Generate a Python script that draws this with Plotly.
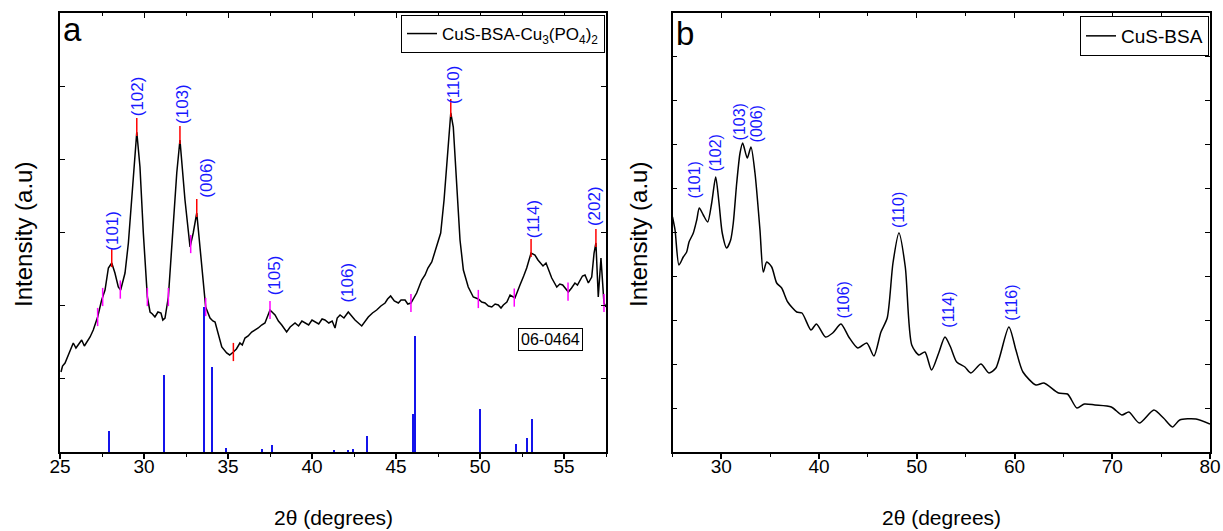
import numpy as np
import plotly.graph_objects as go

# ---------------- Panel a: CuS-BSA-Cu3(PO4)2 ----------------
a_two_theta = [25.06, 25.15, 25.30, 25.42, 25.54, 25.65, 25.79, 25.95, 26.09, 26.20, 26.29, 26.45,
               26.59, 26.70, 26.79, 26.98, 27.24, 27.48, 27.68, 27.88, 28.08, 28.27, 28.47, 28.61,
               28.87, 29.07, 29.30, 29.57, 29.76, 29.96, 30.20, 30.36, 30.50, 30.65, 30.83, 31.01,
               31.12, 31.25, 31.45, 31.68, 31.95, 32.14, 32.44, 32.74, 32.93, 33.14, 33.43, 33.67,
               33.93, 34.10, 34.23, 34.42, 34.63, 34.92, 35.10, 35.32, 35.50, 35.71, 35.85, 36.01,
               36.20, 36.41, 36.60, 36.80, 37.00, 37.20, 37.50, 37.80, 38.00, 38.20, 38.49, 38.70,
               38.99, 39.20, 39.40, 39.58, 39.80, 40.00, 40.18, 40.40, 40.60, 40.77, 41.00, 41.20,
               41.37, 41.50, 41.67, 41.90, 42.16, 42.35, 42.56, 42.96, 43.15, 43.35, 43.60, 43.85,
               44.10, 44.35, 44.50, 44.68, 44.90, 45.14, 45.30, 45.54, 45.70, 45.89, 46.23, 46.53,
               46.73, 46.90, 47.13, 47.42, 47.66, 47.86, 48.05, 48.26, 48.41, 48.61, 48.81, 49.01,
               49.30, 49.60, 49.90, 50.10, 50.30, 50.50, 50.70, 50.90, 51.09, 51.25, 51.39, 51.60,
               51.79, 52.08, 52.20, 52.38, 52.60, 52.78, 53.04, 53.27, 53.45, 53.57, 53.75, 53.93,
               54.10, 54.27, 54.57, 54.75, 54.92, 55.10, 55.26, 55.45, 55.65, 55.80, 55.95, 56.10,
               56.25, 56.45, 56.65, 56.79, 56.90, 57.04, 57.20, 57.38, 57.50]
a_intensity = [80, 86, 89, 94, 97, 103, 109, 104, 107, 110, 112, 106,
               110, 113, 115, 122, 135, 152, 162, 184, 189, 179, 165, 162,
               179, 209, 259, 320, 285, 219, 155, 140, 138, 135, 140, 139,
               132, 134, 155, 209, 279, 312, 252, 205, 219, 239, 185, 145,
               134, 131, 130, 119, 105, 99, 97, 100, 103, 109, 107, 114,
               116, 120, 122, 124, 127, 129, 142, 137, 131, 127, 120, 125,
               129, 126, 131, 129, 127, 132, 130, 128, 133, 132, 129, 131,
               124, 134, 137, 134, 140, 136, 132, 126, 130, 135, 139, 142,
               146, 149, 153, 156, 151, 149, 152, 152, 148, 149, 159, 172,
               177, 184, 190, 205, 219, 252, 295, 339, 325, 262, 212, 182,
               165, 155, 153, 150, 149, 146, 145, 148, 147, 144, 147, 150,
               157, 154, 160, 167, 176, 184, 199, 197, 192, 190, 186, 189,
               181, 174, 165, 168, 167, 163, 160, 164, 169, 167, 172, 176,
               177, 169, 175, 199, 209, 155, 194, 149, 145]

# Reference pattern JCPDS 06-0464 (stick positions / relative heights)
ref_two_theta = [27.93, 31.23, 33.59, 34.08, 34.90, 37.01, 37.63, 41.29, 42.15, 42.48,
                 43.26, 46.05, 46.13, 50.02, 52.13, 52.79, 53.10]
ref_intensity = [21, 77, 145, 85, 4, 3, 7, 2.5, 2.5, 3.5, 16, 38, 116, 43, 8, 14, 33]

a_labels = ["(101)", "(102)", "(103)", "(006)", "(105)", "(106)", "(110)", "(114)", "(202)"]
a_label_x = [28.08, 29.60, 32.26, 33.67, 37.76, 42.06, 48.39, 53.17, 56.79]
a_label_y = [199, 334, 326, 252, 155, 147, 346, 212, 224]

a_red_peaks = [28.08, 29.57, 32.14, 33.14, 48.26, 53.04, 56.90]
a_marks = [27.24, 27.54, 28.59, 30.20, 31.45, 32.78, 33.67, 35.32, 37.50, 45.89, 49.90,
           52.04, 55.24, 57.38]
a_mark_colors = ["magenta"] * 7 + ["red"] + ["magenta"] * 6

# ---------------- Panel b: CuS-BSA ----------------
b_two_theta = [25.00, 25.26, 25.66, 26.10, 26.45, 26.69, 27.13, 27.48, 27.74, 28.15, 28.60,
               29.01, 29.42, 29.76, 30.09, 30.54, 30.95, 31.22, 31.57, 31.91, 32.18, 32.65,
               33.03, 33.44, 33.95, 34.29, 34.64, 35.15, 35.66, 36.17, 36.79, 37.71, 38.25,
               39.17, 39.73, 40.65, 41.39, 42.24, 43.04, 43.96, 44.88, 45.61, 46.33, 46.97,
               47.56, 48.17, 48.82, 49.48, 50.22, 50.83, 51.51, 52.24, 52.88, 53.45, 54.08,
               54.92, 55.54, 56.56, 57.38, 58.09, 59.42, 60.14, 60.86, 62.19, 63.01, 64.50,
               65.42, 66.38, 67.15, 68.22, 69.90, 70.98, 71.70, 72.77, 74.26, 75.24, 76.16,
               76.90, 78.56, 80.00]
b_intensity = [235, 222, 187, 195, 200, 210, 219, 232, 244, 237, 230,
               249, 275, 249, 219, 204, 212, 229, 269, 299, 309, 294,
               305, 279, 222, 180, 190, 185, 169, 164, 150, 140, 139,
               122, 128, 115, 119, 128, 115, 104, 109, 96, 120, 134,
               189, 219, 185, 107, 97, 100, 82, 99, 115, 105, 90,
               85, 79, 88, 79, 84, 125, 102, 80, 67, 69, 59,
               58, 44, 48, 47, 45, 37, 40, 29, 42, 34, 25,
               32, 33, 28]

b_labels = ["(101)", "(102)", "(103)", "(006)", "(106)", "(110)", "(114)", "(116)"]
b_label_x = [27.30, 29.45, 31.90, 33.64, 42.54, 48.07, 53.16, 59.60]
b_label_y = [252, 279, 310, 308, 132, 222, 122, 129]

# ---------------- Figure ----------------
FONT = "Arial, Liberation Sans, sans-serif"
W, H = 1223, 531
BLUE = "rgb(25,25,255)"

def px_x(p):
    return p / W

def px_y(p):
    return (H - p) / H

fig = go.Figure()

fig.add_trace(go.Bar(x=ref_two_theta, y=ref_intensity, width=0.08, marker_color="rgb(20,20,235)",
                     marker_line_width=0, showlegend=False, xaxis="x", yaxis="y"))
fig.add_trace(go.Scatter(x=a_two_theta, y=a_intensity, mode="lines",
                         line=dict(color="black", width=1.5),
                         name="CuS-BSA-Cu<sub>3</sub>(PO<sub>4</sub>)<sub>2</sub>",
                         legend="legend", xaxis="x", yaxis="y"))

red_y = np.interp(a_red_peaks, a_two_theta, a_intensity) + 5
fig.add_trace(go.Scatter(x=a_red_peaks, y=red_y, mode="markers",
                         marker=dict(symbol="line-ns", size=13, line=dict(color="red", width=1.5)),
                         showlegend=False, xaxis="x", yaxis="y"))
mark_y = np.interp(a_marks, a_two_theta, a_intensity)
fig.add_trace(go.Scatter(x=a_marks, y=mark_y, mode="markers",
                         marker=dict(symbol="line-ns", size=13, line=dict(color=a_mark_colors, width=1.5)),
                         showlegend=False, xaxis="x", yaxis="y"))

fig.add_trace(go.Scatter(x=b_two_theta, y=b_intensity, mode="lines",
                         line=dict(color="black", width=1.5, shape="spline", smoothing=0.7),
                         name="CuS-BSA", legend="legend2", xaxis="x2", yaxis="y2"))

# helper traces for top-side tick axes
fig.add_trace(go.Scatter(x=[None], y=[None], xaxis="x3", yaxis="y", showlegend=False))
fig.add_trace(go.Scatter(x=[None], y=[None], xaxis="x4", yaxis="y2", showlegend=False))

dom_a = [px_x(60), px_x(606)]
dom_b = [px_x(672.5), px_x(1210)]
dom_y = [px_y(452), px_y(13)]

def xax(domain, rng, dtick, minor_dtick, anchor):
    return dict(domain=domain, range=rng, dtick=dtick, tick0=0, ticks="outside", ticklen=5,
                tickwidth=1.5, tickcolor="black", showline=True, linecolor="black", linewidth=1.5,
                mirror=True, showgrid=False, zeroline=False, anchor=anchor, automargin=False,
                ticklabelstandoff=-9,
                tickfont=dict(family=FONT, size=19, color="black"),
                minor=dict(ticks="outside", ticklen=3, tickwidth=1.2, tickcolor="black",
                           dtick=minor_dtick, tick0=0, showgrid=False))

def topax(domain, rng, dtick, minor_dtick, overlay, anchor):
    return dict(domain=domain, range=rng, dtick=dtick, tick0=0, ticks="inside", ticklen=5,
                tickwidth=1.2, tickcolor="black", showline=False, showgrid=False, zeroline=False,
                showticklabels=False, side="top", overlaying=overlay, anchor=anchor,
                minor=dict(ticks="inside", ticklen=3, tickwidth=1, tickcolor="black",
                           dtick=minor_dtick, tick0=0, showgrid=False))

def yax(dtick, anchor):
    return dict(domain=dom_y, range=[0, 439], dtick=dtick, tick0=0, ticks="inside", ticklen=5,
                tickwidth=1.2, tickcolor="black", showline=True, linecolor="black", linewidth=1.5,
                mirror="ticks", showgrid=False, zeroline=False, showticklabels=False,
                anchor=anchor, automargin=False)

annotations = []
for t, x, y in zip(a_labels, a_label_x, a_label_y):
    annotations.append(dict(text=t, x=x, y=y, xref="x", yref="y", textangle=-90,
                            xanchor="center", yanchor="bottom", showarrow=False,
                            font=dict(family=FONT, size=17, color=BLUE)))
for t, x, y in zip(b_labels, b_label_x, b_label_y):
    annotations.append(dict(text=t, x=x, y=y, xref="x2", yref="y2", textangle=-90,
                            xanchor="center", yanchor="bottom", showarrow=False,
                            font=dict(family=FONT, size=16, color=BLUE)))

annotations += [
    dict(text="a", x=px_x(61), y=px_y(50), xref="paper", yref="paper", xanchor="left",
         yanchor="bottom", showarrow=False, font=dict(family=FONT, size=33, color="black")),
    dict(text="b", x=px_x(674), y=px_y(54), xref="paper", yref="paper", xanchor="left",
         yanchor="bottom", showarrow=False, font=dict(family=FONT, size=33, color="black")),
    dict(text="06-0464", x=54.2, y=113, xref="x", yref="y", xanchor="center", yanchor="middle",
         showarrow=False, bordercolor="black", borderwidth=1, borderpad=2, bgcolor="white",
         font=dict(family=FONT, size=16, color="black")),
    dict(text="Intensity (a.u)", x=px_x(24), y=px_y(235), xref="paper", yref="paper",
         xanchor="center", yanchor="middle",
         textangle=-90, showarrow=False, font=dict(family=FONT, size=24, color="black")),
    dict(text="Intensity (a.u)", x=px_x(639), y=px_y(235), xref="paper", yref="paper",
         xanchor="center", yanchor="middle",
         textangle=-90, showarrow=False, font=dict(family=FONT, size=24, color="black")),
    dict(text="2θ (degrees)", x=px_x(333), y=px_y(517), xref="paper", yref="paper",
         xanchor="center", yanchor="middle",
         showarrow=False, font=dict(family=FONT, size=21, color="black")),
    dict(text="2θ (degrees)", x=px_x(941), y=px_y(517), xref="paper", yref="paper",
         xanchor="center", yanchor="middle",
         showarrow=False, font=dict(family=FONT, size=21, color="black")),
]

fig.update_layout(
    width=W, height=H, margin=dict(l=0, r=0, t=0, b=0, autoexpand=False),
    paper_bgcolor="white", plot_bgcolor="white",
    font=dict(family=FONT, color="black"),
    xaxis=xax(dom_a, [25, 57.5], 5, 2.5, "y"),
    yaxis=yax(73.17, "x"),
    xaxis2=xax(dom_b, [25, 80], 10, 5, "y2"),
    yaxis2=yax(43.9, "x2"),
    xaxis3=topax(dom_a, [25, 57.5], 5, 2.5, "x", "y"),
    xaxis4=topax(dom_b, [25, 80], 10, 5, "x2", "y2"),
    legend=dict(x=px_x(605), y=px_y(15), xanchor="right", yanchor="top", bgcolor="white",
                bordercolor="black", borderwidth=1, font=dict(family=FONT, size=17, color="black"),
                itemwidth=30),
    legend2=dict(x=px_x(1209), y=px_y(16), xanchor="right", yanchor="top", bgcolor="white",
                 bordercolor="black", borderwidth=1, font=dict(family=FONT, size=19, color="black"),
                 itemwidth=30),
    annotations=annotations,
    bargap=0,
)

fig.write_html("out.html", config={"displayModeBar": False},
               post_script="document.body.style.margin='0px';")
